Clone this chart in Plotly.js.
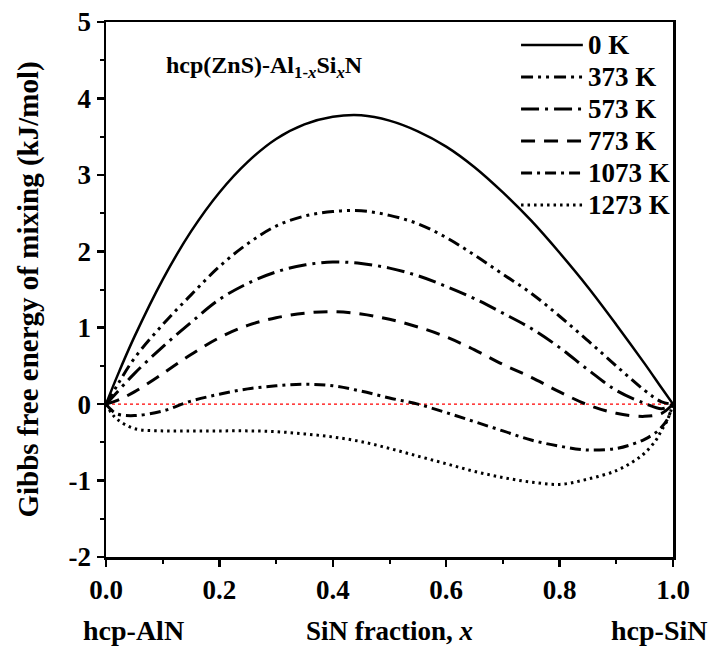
<!DOCTYPE html>
<html>
<head>
<meta charset="utf-8">
<script src="https://cdn.plot.ly/plotly-3.0.1.min.js"></script>
<style>html,body{margin:0;padding:0;background:#fff;}#chart{width:711px;height:646px;}</style>
</head>
<body>
<div id="chart"></div>
<script>
// Series names (legend labels)
const seriesNames = ["0 K", "373 K", "573 K", "773 K", "1073 K", "1273 K"];

// SiN fraction x at which values were read
const xRead = [0, 0.02, 0.05, 0.1, 0.15, 0.2, 0.25, 0.3, 0.35, 0.4, 0.45, 0.5, 0.55, 0.6, 0.65, 0.7, 0.75, 0.8, 0.85, 0.9, 0.95, 0.98, 1];

// Gibbs free energy of mixing (kJ/mol)
const g0K   = [0, 0.37, 0.88, 1.63, 2.26, 2.77, 3.17, 3.47, 3.66, 3.76, 3.78, 3.71, 3.57, 3.37, 3.10, 2.77, 2.40, 1.98, 1.53, 1.04, 0.53, 0.21, 0];
const g373K = [0, 0.25, 0.60, 1.04, 1.43, 1.80, 2.10, 2.33, 2.46, 2.52, 2.53, 2.47, 2.36, 2.18, 1.95, 1.70, 1.45, 1.15, 0.83, 0.50, 0.18, 0.03, 0];
const g573K = [0, 0.16, 0.40, 0.75, 1.07, 1.37, 1.58, 1.73, 1.82, 1.86, 1.84, 1.78, 1.68, 1.54, 1.38, 1.19, 0.99, 0.74, 0.45, 0.18, 0.01, -0.06, 0];
const g773K = [0, 0.05, 0.16, 0.40, 0.65, 0.87, 1.03, 1.13, 1.19, 1.21, 1.18, 1.11, 1.01, 0.88, 0.71, 0.52, 0.35, 0.16, -0.01, -0.12, -0.16, -0.12, 0];

// Higher temperatures read on a finer grid near the ends
const xReadHT = [0, 0.01, 0.02, 0.05, 0.1, 0.15, 0.2, 0.25, 0.3, 0.35, 0.4, 0.45, 0.5, 0.55, 0.6, 0.65, 0.7, 0.75, 0.8, 0.85, 0.9, 0.93, 0.95, 0.97, 0.98, 0.99, 1];
const g1073K = [0, -0.08, -0.13, -0.15, -0.09, 0.04, 0.13, 0.20, 0.24, 0.26, 0.24, 0.17, 0.08, 0.0, -0.11, -0.23, -0.35, -0.47, -0.55, -0.60, -0.58, -0.52, -0.46, -0.37, -0.30, -0.20, 0];
const g1273K = [0, -0.12, -0.20, -0.32, -0.35, -0.35, -0.35, -0.35, -0.36, -0.39, -0.43, -0.49, -0.58, -0.68, -0.78, -0.88, -0.96, -1.02, -1.05, -0.98, -0.87, -0.75, -0.64, -0.47, -0.34, -0.21, 0];

// Reference level (zero of mixing energy)
const zeroLevel = 0;

// Axis tick labels
const xTickVals = [0, 0.2, 0.4, 0.6, 0.8, 1.0];
const xTickText = ["0.0", "0.2", "0.4", "0.6", "0.8", "1.0"];
const yTickVals = [-2, -1, 0, 1, 2, 3, 4, 5];
const yTickText = ["-2", "-1", "0", "1", "2", "3", "4", "5"];

const xs = [xRead, xRead, xRead, xRead, xReadHT, xReadHT];
const ys = [g0K, g373K, g573K, g773K, g1073K, g1273K];
const dashes = ["solid", "12px,5px,3px,5px,3px,5px", "18px,6px,3px,6px", "14px,9px", "11px,5px,3px,5px", "2.5px,4px"];
const widths = [2.5, 3, 3, 3, 3, 3];

const FONT = "Liberation Serif, Times New Roman, serif";

const traces = seriesNames.map((n, i) => ({
  x: xs[i], y: ys[i], name: n, type: "scatter", mode: "lines",
  line: {color: "#000", width: widths[i], dash: dashes[i], shape: "spline", smoothing: 1},
  showlegend: false
}));

// Legend drawn as layout shapes + annotations (long line samples like the original)
const legX0 = 0.732, legX1 = 0.841, legTextX = 0.846, legTop = 0.957, legStep = 0.0598;
const legendShapes = seriesNames.map((n, i) => ({
  type: "line", xref: "paper", yref: "paper",
  x0: legX0, x1: legX1, y0: legTop - i * legStep, y1: legTop - i * legStep,
  line: {color: "#000", width: widths[i], dash: dashes[i]}
}));
const legendTexts = seriesNames.map((n, i) => ({
  text: n, xref: "paper", yref: "paper", x: legTextX, y: legTop - i * legStep,
  xanchor: "left", yanchor: "middle", showarrow: false,
  font: {family: FONT, size: 27, weight: "bold", color: "#000"}
}));

const zeroShape = {
  type: "line", xref: "x", yref: "y", x0: xTickVals[0], x1: xTickVals[xTickVals.length - 1],
  y0: zeroLevel, y1: zeroLevel, layer: "below",
  line: {color: "#ff0000", width: 1.2, dash: "dot"}
};

const layout = {
  width: 711, height: 646,
  margin: {l: 106, r: 38, t: 22, b: 89},
  paper_bgcolor: "#fff", plot_bgcolor: "#fff",
  font: {family: FONT, color: "#000", size: 26, weight: "bold"},
  showlegend: false,
  xaxis: {
    range: [0, 1], tickvals: xTickVals, ticktext: xTickText,
    showline: true, linewidth: 2.5, linecolor: "#000", mirror: true,
    ticks: "outside", ticklen: 7, tickwidth: 2.5, tickcolor: "#000",
    minor: {dtick: 0.1, ticks: "outside", ticklen: 4, tickwidth: 2, tickcolor: "#000", showgrid: false},
    showgrid: false, zeroline: false,
    tickfont: {family: FONT, size: 27, weight: "bold"},
    title: {text: "SiN fraction, <i>x</i>", font: {family: FONT, size: 27, weight: "bold"}, standoff: 18}
  },
  yaxis: {
    range: [-2, 5], tickvals: yTickVals, ticktext: yTickText,
    showline: true, linewidth: 2.5, linecolor: "#000", mirror: true,
    ticks: "outside", ticklen: 7, tickwidth: 2.5, tickcolor: "#000",
    minor: {dtick: 0.5, ticks: "outside", ticklen: 4, tickwidth: 2, tickcolor: "#000", showgrid: false},
    showgrid: false, zeroline: false,
    tickfont: {family: FONT, size: 27, weight: "bold"},
    title: {text: "Gibbs free energy of mixing (kJ/mol)", font: {family: FONT, size: 29, weight: "bold"}, standoff: 22}
  },
  shapes: [zeroShape].concat(legendShapes),
  annotations: [
    {text: "hcp(ZnS)-Al<sub>1-<i>x</i></sub>Si<sub><i>x</i></sub>N", xref: "paper", yref: "paper", x: 0.103, y: 0.915, xanchor: "left", yanchor: "middle", showarrow: false, font: {family: FONT, size: 24, weight: "bold"}},
    {text: "hcp-AlN", xref: "paper", yref: "paper", x: 0.048, y: -0.138, xanchor: "center", yanchor: "middle", showarrow: false, font: {family: FONT, size: 28, weight: "bold"}},
    {text: "hcp-SiN", xref: "paper", yref: "paper", x: 0.975, y: -0.138, xanchor: "center", yanchor: "middle", showarrow: false, font: {family: FONT, size: 28, weight: "bold"}}
  ].concat(legendTexts)
};

Plotly.newPlot("chart", traces, layout, {displayModeBar: false, staticPlot: true});
</script>
</body>
</html>
